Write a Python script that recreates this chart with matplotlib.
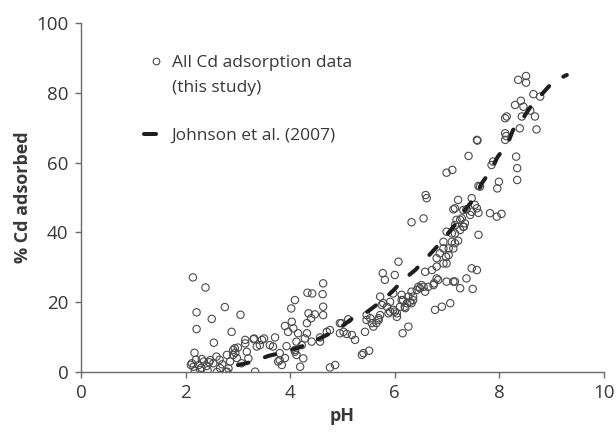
import matplotlib
matplotlib.use("Agg")
import matplotlib.pyplot as plt
from matplotlib.lines import Line2D

plt.rcParams['font.family'] = ['Open Sans', 'DejaVu Sans']

# Measured data: pH and % Cd adsorbed (this study)
ph_data = [
    2.14, 2.38, 2.21, 2.75, 3.05, 2.50, 2.21, 2.88, 2.54, 2.17,
    2.31, 2.47, 2.59, 2.79, 2.91, 3.17, 3.30, 3.14, 3.46, 3.36,
    2.15, 2.28, 2.40, 2.53, 2.66, 2.79, 3.33, 3.07, 3.20,
    2.12, 2.18, 2.25, 2.30, 2.35, 2.42, 2.45, 2.60, 2.65, 2.70,
    2.85, 2.95, 3.00, 2.98, 2.82, 2.77, 2.20, 2.10,
    3.14, 3.31, 3.50, 3.71, 2.94, 2.91, 3.42, 3.61, 3.67, 3.77,
    3.93, 3.96, 3.90, 4.03, 4.02, 4.09, 3.80, 3.84, 3.80, 3.90,
    4.63, 4.33, 4.42, 4.62, 4.63, 4.35, 4.47, 4.40, 4.63, 4.06,
    4.32, 4.15, 4.32, 4.28, 4.57, 4.70, 4.76, 4.09, 4.12, 4.25,
    4.19, 4.76, 4.86, 4.09, 4.12, 4.22, 4.41, 4.57, 4.95, 4.95, 4.98,
    5.11, 5.02, 5.18, 5.08, 5.43, 5.37, 5.24, 5.40, 5.51, 5.69,
    5.65, 5.59, 5.53, 5.72, 5.78, 5.85, 5.97, 5.91, 5.77, 5.81,
    5.56, 5.46, 5.46, 5.75, 5.88, 5.91, 5.97, 5.72, 5.69,
    6.07, 6.00, 6.04, 6.13, 6.19, 6.29, 6.26, 6.15, 6.32, 6.55,
    6.59, 6.61, 6.99, 7.10, 6.32, 6.26, 6.35, 6.32, 6.23, 6.77,
    6.90, 7.06, 6.80, 6.75, 6.64, 6.55, 6.58, 6.48, 6.42, 6.93,
    6.93, 6.86, 6.80, 6.99, 6.99, 6.58, 6.71, 6.80, 6.93, 6.98,
    6.45, 6.51, 6.74, 6.83, 6.99, 6.13, 6.16, 6.10, 6.20, 6.00,
    6.04, 6.35,
    7.60, 7.21, 7.12, 7.31, 7.47, 7.57, 7.25, 7.34, 7.31, 7.60,
    7.09, 7.21, 7.12, 7.03, 7.47, 7.57, 7.37, 7.49, 7.25, 7.15,
    7.12, 7.03, 7.15, 7.09, 7.15, 7.57, 7.58, 7.41, 7.88, 7.85,
    7.99, 7.96, 7.63, 7.47, 7.15, 7.37, 7.53, 7.60, 7.44, 7.82,
    7.95, 8.04, 7.18, 7.28, 7.32, 7.15, 7.25,
    8.36, 8.51, 8.51, 8.65, 8.78, 8.30, 8.41, 8.46, 8.59, 8.68,
    8.71, 8.39, 8.43, 8.11, 8.14, 8.11, 8.13, 8.11, 8.32, 8.34, 8.34,
]
cd_data = [
    27.1, 24.2, 17.1, 18.6, 16.4, 15.2, 12.3, 11.5, 8.4, 5.5,
    3.7, 3.4, 4.4, 4.9, 6.3, 5.8, 9.4, 9.2, 9.2, 7.3,
    1.5, 0.6, 1.7, 2.5, 1.1, 0.1, 0.1, 2.5, 3.9,
    2.5, 0.3, 2.0, 1.2, 3.0, 0.5, 2.8, 0.0, 3.5, 2.2,
    3.0, 5.5, 7.0, 4.0, 1.0, 0.0, 3.5, 2.0,
    8.2, 9.6, 9.6, 9.9, 6.8, 4.9, 7.7, 7.7, 7.3, 3.0,
    7.4, 11.5, 13.2, 14.4, 18.2, 20.6, 3.4, 2.0, 5.4, 4.0,
    25.4, 22.7, 22.5, 22.3, 18.7, 16.8, 16.5, 15.4, 16.3, 12.5,
    14.0, 11.1, 11.1, 9.6, 9.9, 11.5, 12.0, 6.3, 4.9, 3.9,
    1.5, 1.3, 2.0, 5.8, 8.7, 7.7, 8.7, 8.7, 14.0, 11.1, 14.0,
    15.1, 11.5, 10.6, 10.9, 11.5, 4.9, 9.2, 5.4, 6.1, 15.4,
    14.0, 13.0, 15.4, 21.6, 19.7, 18.7, 17.8, 17.3, 28.3, 26.4,
    14.0, 14.9, 16.3, 19.2, 16.8, 20.1, 22.5, 16.3, 14.9,
    31.6, 27.8, 16.8, 20.6, 18.7, 20.1, 13.0, 11.1, 42.9, 44.0,
    50.7, 49.8, 57.1, 57.9, 23.0, 21.6, 20.6, 19.7, 19.7, 17.8,
    18.7, 19.7, 26.8, 25.4, 24.4, 24.4, 23.0, 24.0, 23.5, 37.3,
    35.4, 34.0, 32.6, 31.1, 40.2, 28.7, 29.2, 30.2, 31.1, 33.0,
    24.4, 24.9, 24.9, 26.4, 25.9, 22.1, 20.6, 18.7, 18.3, 17.3,
    15.8, 21.6,
    53.3, 49.3, 46.6, 46.4, 45.9, 46.9, 43.6, 42.6, 41.6, 39.3,
    37.3, 37.6, 35.4, 33.5, 29.7, 29.2, 26.8, 23.8, 24.0, 25.9,
    25.9, 35.4, 36.9, 39.7, 39.7, 66.5, 66.3, 61.9, 60.3, 59.3,
    54.5, 52.6, 53.1, 49.8, 46.9, 46.6, 47.9, 45.6, 45.0, 45.5,
    44.5, 45.3, 43.6, 44.0, 41.6, 42.1, 40.7,
    83.7, 84.8, 82.9, 79.6, 78.9, 76.5, 77.7, 76.0, 74.9, 73.2,
    69.5, 69.8, 73.2, 72.7, 73.2, 68.4, 67.6, 66.5, 61.7, 58.4, 55.0,
]

# Johnson et al. (2007) model curve
ph_johnson = [3.0, 3.3, 3.58, 3.8, 4.15, 4.42, 4.7, 4.95, 5.2, 5.47, 5.72,
              5.95, 6.16, 6.39, 6.61, 6.8, 6.99, 7.18, 7.34, 7.53, 7.66,
              7.82, 7.97, 8.16, 8.26, 8.45, 8.62, 8.83, 9.03, 9.29]
cd_johnson = [2.0, 3.0, 4.6, 5.4, 6.9, 8.6, 10.6, 12.6, 15.5, 17.2, 20.0,
              23.0, 26.4, 29.2, 32.7, 35.8, 39.2, 42.7, 46.4, 49.9, 54.0,
              57.4, 61.7, 65.5, 69.3, 72.7, 76.5, 79.9, 83.2, 85.1]

x_ticks = [0, 2, 4, 6, 8, 10]
y_ticks = [0, 20, 40, 60, 80, 100]

W, H = 616, 432
fig = plt.figure(figsize=(W / 100, H / 100), dpi=100)
ax = fig.add_axes([0.1315, 0.1389, 0.849, 0.808])

axis_col = '#6a6a6a'
text_col = '#383838'
mark_col = '#4a4a4a'
line_col = '#1e1e1e'

ax.scatter(ph_data, cd_data, s=28, facecolors='none', edgecolors=mark_col,
           linewidths=0.8, zorder=2)
ax.plot(ph_johnson, cd_johnson, color=line_col, linewidth=2.9,
        dashes=(2.7, 4.3), dash_capstyle='round', zorder=3)

ax.set_xlim(0, 10)
ax.set_ylim(0, 100)
ax.set_xticks(x_ticks)
ax.set_yticks(y_ticks)
for s in ['top', 'right']:
    ax.spines[s].set_visible(False)
for s in ['left', 'bottom']:
    ax.spines[s].set_color(axis_col)
    ax.spines[s].set_linewidth(1.0)
ax.tick_params(axis='both', direction='out', length=4, width=1.0,
               color=axis_col, labelcolor=text_col, labelsize=13.5, pad=5)

ax.set_xlabel('pH', fontsize=13, fontweight='bold', color=text_col, labelpad=3)
ax.set_ylabel('% Cd adsorbed', fontsize=13, fontweight='bold', color=text_col, labelpad=3)

leg_fs = 12.5
marker_handle = Line2D([], [], linestyle='none', marker='o', markersize=4.8,
                       markerfacecolor='none', markeredgecolor=mark_col,
                       markeredgewidth=0.8)
blank_handle = Line2D([], [], linestyle='none', marker=None)
line_handle = Line2D([], [], color=line_col, linewidth=2.9,
                     solid_capstyle='round')

leg1 = ax.legend([marker_handle, blank_handle],
                 ['All Cd adsorption data', '(this study)'],
                 loc='upper left', bbox_to_anchor=(147.3 / W, 1 - 55 / H),
                 bbox_transform=fig.transFigure, frameon=False, fontsize=leg_fs,
                 handlelength=1.0, handletextpad=0.4, labelspacing=0.5,
                 borderpad=0, borderaxespad=0, labelcolor=text_col)
ax.add_artist(leg1)
ax.legend([line_handle], ['Johnson et al. (2007)'],
          loc='upper left', bbox_to_anchor=(143.7 / W, 1 - 128 / H),
          bbox_transform=fig.transFigure, frameon=False, fontsize=leg_fs,
          handlelength=0.73, handletextpad=0.89,
          borderpad=0, borderaxespad=0, labelcolor=text_col)

fig.savefig('out.png', dpi=100)
